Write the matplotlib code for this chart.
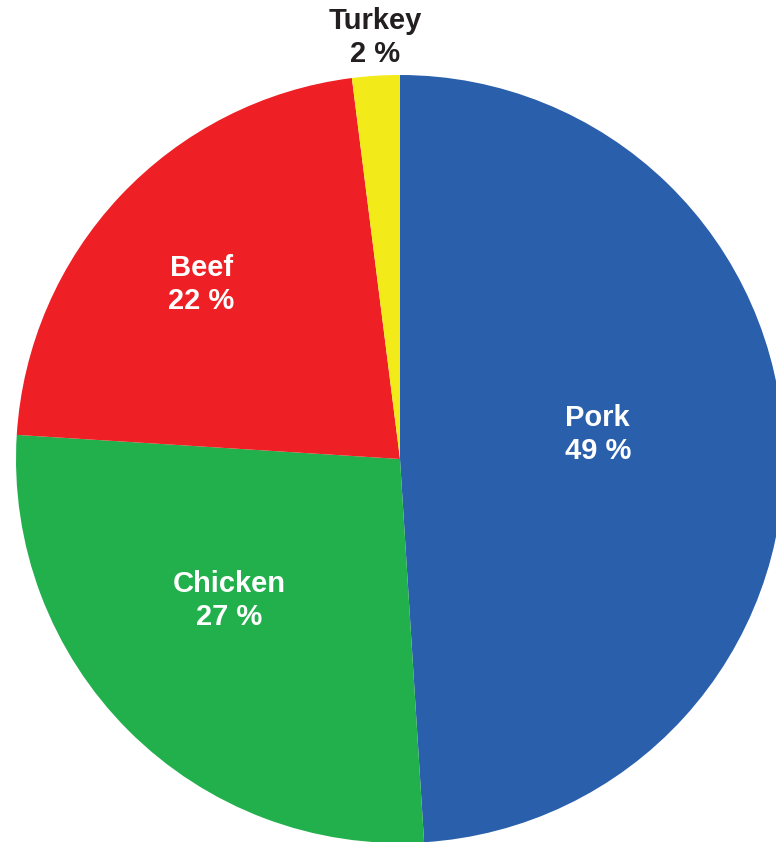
import matplotlib.pyplot as plt

# Частка видів м'яса (%)
MEATS = ["Pork", "Chicken", "Beef", "Turkey"]
SHARES = [49, 27, 22, 2]
COLORS = ["#2A5FAB", "#21B04C", "#EE1F25", "#F3EA1A"]
TEXT_COLORS = ["white", "white", "white", "#231F20"]

# Зсув підписів від центру, у частках радіуса
LABEL_OFFSETS = [(0.515, 0.063), (-0.444, -0.368), (-0.517, 0.454), (-0.065, 1.097)]

CENTER = (400, 383)
RADIUS = 384


def plot_pie() -> None:
    fig = plt.figure(figsize=(7.76, 8.42), dpi=100)
    ax = fig.add_axes([0, 0, 1, 1])

    ax.pie(
        SHARES,
        colors=COLORS,
        startangle=90,
        counterclock=False,
        center=CENTER,
        radius=RADIUS,
        frame=True,
        wedgeprops={"linewidth": 0},
    )
    ax.set_xlim(0, 776)
    ax.set_ylim(0, 842)
    ax.set_aspect("equal")
    ax.axis("off")

    for name, share, (dx, dy), color in zip(MEATS, SHARES, LABEL_OFFSETS, TEXT_COLORS):
        ax.text(
            CENTER[0] + dx * RADIUS,
            CENTER[1] + dy * RADIUS,
            f"{name}\n{share} %",
            ha="center",
            va="center",
            color=color,
            fontsize=21,
            fontweight="bold",
            family=["Liberation Sans", "DejaVu Sans"],
            linespacing=1.22,
        )

    fig.savefig("out.png", dpi=100)


if __name__ == "__main__":
    plot_pie()
